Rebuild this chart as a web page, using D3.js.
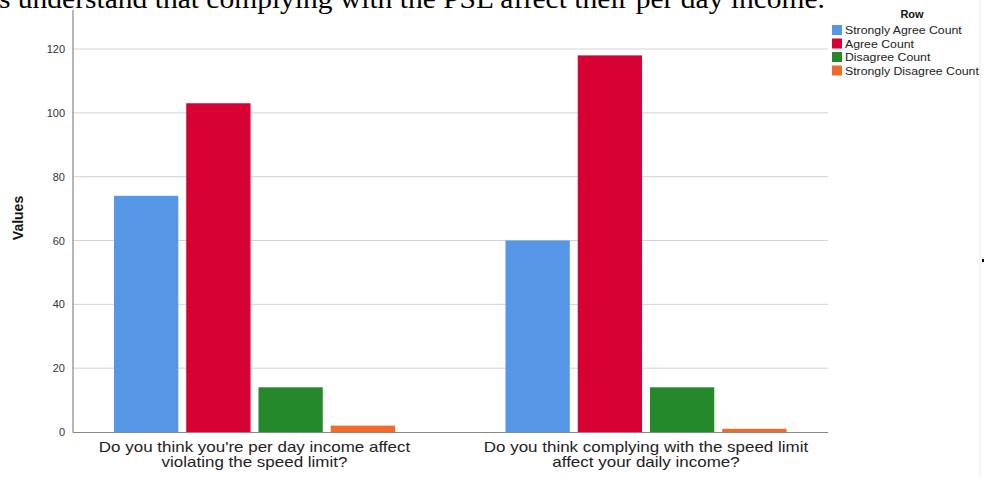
<!DOCTYPE html>
<html><head><meta charset="utf-8">
<script src="https://cdn.jsdelivr.net/npm/d3@7"></script>
<style>body{margin:0;background:#fff}svg{display:block}</style>
</head><body>
<script>
const categories = ["Do you think you're per day income affect|violating the speed limit?", "Do you think complying with the speed limit|affect your daily income?"];
const seriesNames = ["Strongly Agree Count", "Agree Count", "Disagree Count", "Strongly Disagree Count"];
const seriesColors = ["#5596E6", "#D70032", "#25882B", "#F26A2A"];
const stronglyAgree = [74, 60];
const agree = [103, 118];
const disagree = [14, 14];
const stronglyDisagree = [2, 1];
const yTicks = [0, 20, 40, 60, 80, 100, 120];
const topText = "s understand that complying with the PSL affect their per day income.";

const seriesValues = [stronglyAgree, agree, disagree, stronglyDisagree];
const W = 984, H = 477;
const svg = d3.select("body").append("svg").attr("width", W).attr("height", H);

function stretch(sel, k) {
  sel.each(function() {
    const L = this.getComputedTextLength();
    d3.select(this).attr("textLength", L * k).attr("lengthAdjust", "spacingAndGlyphs");
  });
}

svg.append("text").attr("x", -1).attr("y", 8)
  .attr("font-family", "Liberation Serif, Times New Roman, serif")
  .attr("font-size", 27).attr("fill", "#000")
  .attr("textLength", 826).attr("lengthAdjust", "spacingAndGlyphs")
  .text(topText);

const axisX = 73, plotRight = 828, plotTop = 10, zeroY = 432;
const y = d3.scaleLinear().domain([0, 120]).range([zeroY, 49]);
const x0 = d3.scaleBand().domain(d3.range(categories.length)).range([58.75, 841.75]).padding(0);
const x1 = d3.scaleBand().domain(d3.range(seriesNames.length)).range([55.25, 336.25]).paddingInner(0.11).paddingOuter(0);

// gridlines
svg.append("g").selectAll("line").data(yTicks.filter(d => d > 0)).join("line")
  .attr("x1", axisX).attr("x2", plotRight)
  .attr("y1", d => y(d)).attr("y2", d => y(d))
  .attr("stroke", "#d4d4d4").attr("stroke-width", 1);

// bars
const groups = svg.append("g").selectAll("g").data(categories).join("g")
  .attr("transform", (d, i) => `translate(${x0(i)},0)`);
groups.selectAll("rect").data((d, i) => seriesValues.map((s, j) => ({j, v: s[i]}))).join("rect")
  .attr("x", d => x1(d.j)).attr("width", x1.bandwidth())
  .attr("y", d => y(d.v)).attr("height", d => zeroY - y(d.v))
  .attr("fill", d => seriesColors[d.j]);

// y axis
const yAxis = d3.axisLeft(y).tickValues(yTicks).tickSize(0).tickPadding(8);
const gy = svg.append("g").attr("transform", `translate(${axisX},0)`).call(yAxis);
gy.select(".domain").remove();
gy.selectAll("text").attr("font-family", "Liberation Sans, Arial, sans-serif").attr("font-size", 11).attr("fill", "#333");
svg.append("line").attr("x1", axisX).attr("x2", axisX).attr("y1", plotTop).attr("y2", zeroY + 0.5)
  .attr("stroke", "#888").attr("stroke-width", 1.2);
svg.append("line").attr("x1", axisX).attr("x2", plotRight).attr("y1", zeroY + 0.5).attr("y2", zeroY + 0.5)
  .attr("stroke", "#888").attr("stroke-width", 1.2);

// x labels
categories.forEach((d, i) => {
  const cx = x0(i) + x0.bandwidth() / 2;
  d.split("|").forEach((line, k) => {
    const t = svg.append("text").attr("x", cx).attr("y", 452 + k * 15)
      .attr("text-anchor", "middle")
      .attr("font-family", "Liberation Sans, Arial, sans-serif").attr("font-size", 14.5)
      .attr("fill", "#222").text(line);
    stretch(t, 1.17);
  });
});

// y title
svg.append("text").attr("transform", "translate(23,218) rotate(-90)")
  .attr("text-anchor", "middle").attr("font-family", "Liberation Sans, Arial, sans-serif")
  .attr("font-size", 14).attr("font-weight", "bold").attr("fill", "#111").text("Values");

// legend
const lg = svg.append("g");
lg.append("text").attr("x", 912).attr("y", 18).attr("text-anchor", "middle")
  .attr("font-family", "Liberation Sans, Arial, sans-serif").attr("font-size", 11)
  .attr("font-weight", "bold").attr("fill", "#111").text("Row");
const items = lg.selectAll("g.item").data(seriesNames).join("g").attr("class", "item")
  .attr("transform", (d, i) => `translate(832,${25 + i * 13.5})`);
items.append("rect").attr("width", 10).attr("height", 10).attr("fill", (d, i) => seriesColors[i]);
const lt = items.append("text").attr("x", 13).attr("y", 9)
  .attr("font-family", "Liberation Sans, Arial, sans-serif").attr("font-size", 10.5)
  .attr("fill", "#222").text(d => d);
stretch(lt, 1.17);

// small right-edge marks
svg.append("line").attr("x1", 980).attr("x2", 980).attr("y1", 0).attr("y2", H).attr("stroke", "#eee");
svg.append("rect").attr("x", 982).attr("y", 259).attr("width", 2).attr("height", 3).attr("fill", "#000");
</script>
</body></html>
